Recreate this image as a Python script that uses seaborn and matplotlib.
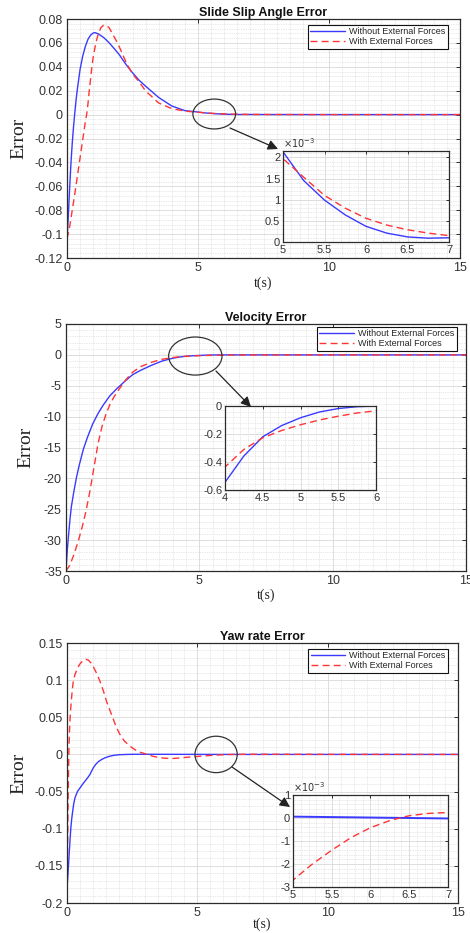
import matplotlib
matplotlib.use("Agg")
import matplotlib.pyplot as plt
import seaborn as sns
from matplotlib.patches import Ellipse
from matplotlib.ticker import MultipleLocator, AutoMinorLocator, FuncFormatter

# ---------------- data ----------------
series_labels = ["Without External Forces", "With External Forces"]
titles = ["Slide Slip Angle Error", "Velocity Error", "Yaw rate Error"]

slip_t_blue = [0, 0.05, 0.1, 0.15, 0.2, 0.25, 0.3, 0.35, 0.4, 0.5, 0.6, 0.7, 0.8, 0.9, 1.0, 1.07,
               1.2, 1.4, 1.6, 1.8, 2.0, 2.25, 2.5, 2.75, 3.0, 3.5, 4.0, 4.5, 5.0, 5.25, 5.5, 5.75,
               6.0, 6.25, 6.5, 6.75, 7.0, 8.0, 10.0, 15.0]
slip_v_blue = [-0.105, -0.085, -0.062, -0.041, -0.024, -0.010, 0.002, 0.013, 0.022, 0.038, 0.049,
               0.057, 0.063, 0.0665, 0.0683, 0.0686, 0.0675, 0.0645, 0.0603, 0.0553, 0.050, 0.042,
               0.035, 0.0288, 0.0238, 0.0143, 0.0072, 0.0033, 0.00213, 0.00145, 0.00099, 0.00064,
               0.00037, 0.00021, 0.00012, 0.00009, 0.00010, 0.00005, 0.00001, 0.0]
slip_t_red = [0, 0.1, 0.2, 0.3, 0.4, 0.5, 0.6, 0.7, 0.75, 0.8, 0.85, 0.95, 1.0, 1.1, 1.2, 1.3, 1.4,
              1.5, 1.6, 1.8, 1.9, 2.0, 2.25, 2.5, 2.75, 3.0, 3.5, 4.0, 4.5, 5.0, 5.25, 5.5, 5.75,
              6.0, 6.25, 6.5, 6.75, 7.0, 8.0, 10.0, 15.0]
slip_v_red = [-0.104, -0.094, -0.080, -0.066, -0.051, -0.036, -0.021, -0.006, 0.0, 0.009, 0.020,
              0.040, 0.048, 0.060, 0.068, 0.073, 0.0748, 0.0745, 0.073, 0.065, 0.061, 0.0565,
              0.044, 0.034, 0.0275, 0.0198, 0.0097, 0.0050, 0.0029, 0.00197, 0.00153, 0.0011,
              0.0008, 0.00056, 0.0004, 0.00029, 0.00021, 0.00015, 0.00006, 0.00001, 0.0]

vel_t_blue = [0, 0.05, 0.1, 0.15, 0.2, 0.3, 0.4, 0.5, 0.65, 0.8, 1.0, 1.2, 1.4, 1.65, 1.9, 2.2,
              2.5, 2.8, 3.2, 3.6, 4.0, 4.25, 4.5, 4.75, 5.0, 5.25, 5.5, 5.75, 6.0, 8.0, 15.0]
vel_v_blue = [-35, -31.5, -29, -26.6, -24.6, -22, -19.7, -17.8, -15.3, -13.4, -11.2, -9.5, -8.1,
              -6.6, -5.5, -4.3, -3.2, -2.5, -1.7, -1.0, -0.545, -0.357, -0.22, -0.14, -0.084,
              -0.043, -0.018, -0.005, 0.0, 0.0, 0.0]
vel_t_red = [0, 0.15, 0.3, 0.45, 0.6, 0.75, 0.9, 1.05, 1.2, 1.35, 1.5, 1.65, 1.8, 2.0, 2.25, 2.5,
             2.8, 3.2, 3.6, 4.0, 4.25, 4.5, 4.75, 5.0, 5.25, 5.5, 5.75, 6.0, 7.0, 8.0, 10.0, 15.0]
vel_v_red = [-35, -34, -32.3, -30.3, -28, -25.3, -22, -18.2, -14.4, -11.6, -9.6, -8.0, -6.8, -5.5,
             -4.0, -2.8, -1.9, -1.2, -0.72, -0.436, -0.31, -0.227, -0.175, -0.134, -0.10, -0.073,
             -0.05, -0.034, -0.012, -0.004, 0.0, 0.0]

yaw_t_blue = [0, 0.03, 0.06, 0.09, 0.12, 0.15, 0.18, 0.22, 0.26, 0.31, 0.4, 0.5, 0.6, 0.69, 0.78,
              0.88, 0.95, 1.01, 1.1, 1.2, 1.33, 1.46, 1.6, 1.78, 2.0, 2.29, 2.6, 3.0, 4.0, 5.0,
              6.0, 7.0, 8.0, 15.0]
yaw_v_blue = [-0.179, -0.165, -0.148, -0.130, -0.113, -0.098, -0.087, -0.076, -0.066, -0.058,
              -0.050, -0.045, -0.040, -0.036, -0.032, -0.027, -0.022, -0.018, -0.0135, -0.0098,
              -0.0068, -0.0045, -0.0028, -0.0013, -0.0004, 0.0, 0.0002, 0.0002, 0.00015, 0.00006,
              0.00002, -0.00002, 0.0, 0.0]
yaw_t_red = [0, 0.02, 0.04, 0.06, 0.08, 0.1, 0.12, 0.16, 0.2, 0.24, 0.3, 0.4, 0.5, 0.63, 0.72,
             0.82, 0.92, 1.01, 1.14, 1.27, 1.4, 1.52, 1.65, 1.78, 1.9, 2.03, 2.2, 2.42, 2.6, 2.8,
             3.08, 3.3, 3.57, 3.8, 4.08, 4.35, 4.6, 5.0, 5.25, 5.5, 5.75, 6.0, 6.25, 6.5, 6.75,
             7.0, 8.0, 10.0, 15.0]
yaw_v_red = [-0.18, -0.13, -0.07, -0.02, 0.015, 0.035, 0.05, 0.07, 0.086, 0.098, 0.107, 0.116,
             0.122, 0.127, 0.128, 0.127, 0.123, 0.118, 0.109, 0.098, 0.085, 0.071, 0.059, 0.047,
             0.036, 0.027, 0.018, 0.011, 0.0065, 0.003, 0.0, -0.0025, -0.0045, -0.0052, -0.0054,
             -0.0047, -0.0038, -0.0027, -0.0020, -0.0014, -0.00085, -0.00042, -0.00011, 0.0001,
             0.0002, 0.00024, 0.0002, 0.0001, 0.0]

main_yticks = [[0.08, 0.06, 0.04, 0.02, 0, -0.02, -0.04, -0.06, -0.08, -0.1, -0.12],
               [5, 0, -5, -10, -15, -20, -25, -30, -35],
               [0.15, 0.1, 0.05, 0, -0.05, -0.1, -0.15, -0.2]]
main_xticks = [0, 5, 10, 15]
inset_xlims = [(5, 7), (4, 6), (5, 7)]
inset_xticks = [[5, 5.5, 6, 6.5, 7], [4, 4.5, 5, 5.5, 6], [5, 5.5, 6, 6.5, 7]]
inset_ylims = [(0, 0.00215), (-0.6, 0.0), (-0.003, 0.001)]
inset_yticks = [[0, 0.0005, 0.001, 0.0015, 0.002], [-0.6, -0.4, -0.2, 0], [-0.003, -0.002, -0.001, 0, 0.001]]

# ---------------- style ----------------
sns.set_theme(style="white")
plt.rcParams['font.family'] = ['Liberation Sans', 'DejaVu Sans']
plt.rcParams['axes.unicode_minus'] = False

BLUE = "#3a3aff"
RED = "#ff3535"
DASH = (0, (5, 3))
AX_COL = "#2b2b2b"
SERIF = ['Liberation Serif', 'DejaVu Serif']

fig = plt.figure(figsize=(4.70, 9.33), dpi=100)

W, H = 470.0, 933.0
def rect(l, t, r, b):
    return [l / W, 1 - b / H, (r - l) / W, (b - t) / H]

main_rects = [rect(67, 19, 460, 258), rect(66, 324, 466, 571), rect(67, 643, 458, 903)]
inset_rects = [rect(283, 151, 449, 242), rect(225, 406, 376, 490), rect(293, 795, 448, 887)]
legend_anchor = [(0.969, 0.975), (0.977, 0.988), (0.974, 0.977)]
ylabel_x = [-0.102, -0.078, -0.102]
xlabel_y = [-0.105, -0.097, -0.083]
ell = [((5.62, 0.0005), 1.63, 0.025), ((4.85, -0.19), 2.0, 6.16), ((5.72, 0.0), 1.62, 0.049)]
arrows = [((230, 128), (278, 149)), ((216, 371), (251, 407)), ((232, 767), (290, 807))]
yminor = [5, 5, 5]

data = [(slip_t_blue, slip_v_blue, slip_t_red, slip_v_red),
        (vel_t_blue, vel_v_blue, vel_t_red, vel_v_red),
        (yaw_t_blue, yaw_v_blue, yaw_t_red, yaw_v_red)]

def gfmt(v, pos):
    if abs(v) < 1e-12:
        return "0"
    return f"{round(v, 6):g}"

def style_ax(ax, fs):
    for s in ax.spines.values():
        s.set_color(AX_COL)
        s.set_linewidth(0.9)
    ax.tick_params(which='both', direction='in', top=True, right=True,
                   colors=AX_COL, labelsize=fs, labelcolor="#333333")
    ax.tick_params(which='major', length=3, width=0.7, pad=3)
    ax.tick_params(which='minor', length=0)
    ax.grid(True, which='major', color="#d8d8d8", linewidth=0.6, linestyle='-')
    ax.grid(True, which='minor', color="#d2d2d2", linewidth=0.5, linestyle=(0, (1, 1.5)))
    ax.set_axisbelow(True)
    ax.set_facecolor("white")

for i in range(3):
    tb, vb, tr, vr = data[i]
    ax = fig.add_axes(main_rects[i])
    sns.lineplot(x=tb, y=vb, ax=ax, color=BLUE, linewidth=1.0, label=series_labels[0])
    sns.lineplot(x=tr, y=vr, ax=ax, color=RED, linewidth=1.0, linestyle=DASH, label=series_labels[1])
    ax.set_xlim(0, 15)
    yt = main_yticks[i]
    ax.set_ylim(min(yt), max(yt))
    ax.set_xticks(main_xticks)
    ax.set_yticks(yt)
    ax.xaxis.set_minor_locator(AutoMinorLocator(10))
    ax.yaxis.set_minor_locator(AutoMinorLocator(yminor[i]))
    ax.yaxis.set_major_formatter(FuncFormatter(gfmt))
    ax.xaxis.set_major_formatter(FuncFormatter(gfmt))
    style_ax(ax, 9)
    ax.set_title(titles[i], fontsize=9, fontweight='bold', pad=2.5, color="#111111")
    ax.set_xlabel("t(s)", fontsize=10, family=SERIF, color="#222222")
    ax.xaxis.label.set_va('center')
    ax.set_ylabel("Error", fontsize=14, family=SERIF, color="#222222")
    ax.yaxis.set_label_coords(ylabel_x[i], 0.5)
    ax.xaxis.set_label_coords(0.5, xlabel_y[i])
    leg = ax.legend(loc='upper right', bbox_to_anchor=legend_anchor[i], borderaxespad=0,
                    fontsize=6.5, frameon=True, fancybox=False, framealpha=1,
                    handlelength=3.8, handletextpad=0.5, labelspacing=0.12, borderpad=0.25)
    leg.get_frame().set_edgecolor("#111111")
    leg.get_frame().set_linewidth(0.8)
    (c, w, h) = ell[i]
    ax.add_patch(Ellipse(c, w, h, fill=False, edgecolor="#333333", linewidth=0.9, zorder=5))

    # inset
    ia = fig.add_axes(inset_rects[i])
    sns.lineplot(x=tb, y=vb, ax=ia, color=BLUE, linewidth=1.0 if i != 2 else 1.4, legend=False)
    sns.lineplot(x=tr, y=vr, ax=ia, color=RED, linewidth=1.0, linestyle=DASH, legend=False)
    ia.set_xlim(*inset_xlims[i])
    ia.set_ylim(*inset_ylims[i])
    ia.set_xticks(inset_xticks[i])
    ia.set_yticks(inset_yticks[i])
    ia.xaxis.set_minor_locator(AutoMinorLocator(5))
    ia.yaxis.set_minor_locator(AutoMinorLocator(5))
    ia.set_xlabel("")
    ia.set_ylabel("")
    ia.xaxis.set_major_formatter(FuncFormatter(gfmt))
    if i == 1:
        ia.yaxis.set_major_formatter(FuncFormatter(gfmt))
    else:
        ia.yaxis.set_major_formatter(FuncFormatter(lambda v, p: gfmt(v * 1e3, p)))
        ia.text(0.0, 1.01, r"$\times10^{-3}$", transform=ia.transAxes, fontsize=7,
                ha='left', va='bottom', color="#333333")
    style_ax(ia, 8)
    ia.tick_params(which='major', length=2, pad=2)

    (sx, sy), (ex, ey) = arrows[i]
    fig.add_artist(matplotlib.patches.FancyArrowPatch(
        (sx / W, 1 - sy / H), (ex / W, 1 - ey / H), transform=fig.transFigure,
        arrowstyle="-|>,head_length=0.6,head_width=0.3", mutation_scale=10,
        color="#222222", linewidth=0.9, shrinkA=0, shrinkB=0))

fig.savefig("out.png", dpi=100, facecolor="white")
